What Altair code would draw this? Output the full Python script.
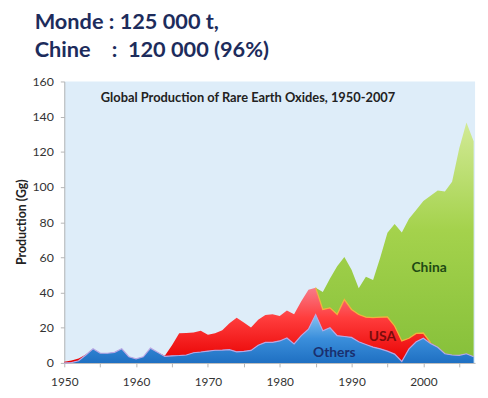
import altair as alt
import pandas as pd

# ---------------- data ----------------
years = list(range(1950, 2008))
others = [0.0, 0.2, 1.2, 4.5, 8.0, 5.6, 5.5, 6.0, 8.0, 3.5,
          2.3, 3.5, 8.4, 6.0, 3.7, 4.0, 4.2, 4.5, 5.8, 6.2,
          6.7, 7.2, 7.3, 7.5, 6.3, 6.6, 7.1, 10.0, 11.7, 11.7,
          12.5, 14.2, 10.8, 15.5, 19.2, 27.5, 18.3, 20.0, 15.5, 15.0,
          14.5, 12.0, 10.5, 9.0, 8.0, 6.7, 5.0, 0.8, 8.0, 12.0,
          14.0, 11.0, 8.9, 5.2, 4.5, 4.3, 5.2, 3.5]
usa = [0.6, 1.2, 1.3, 0.3, 0.0, 0.0, 0.0, 0.0, 0.0, 0.0,
       0.0, 0.0, 0.0, 0.0, 0.3, 6.0, 12.6, 12.5, 11.5, 12.1,
       9.3, 9.6, 11.2, 15.0, 19.4, 16.4, 13.0, 14.5, 15.5, 15.9,
       14.2, 15.6, 16.8, 19.5, 22.4, 15.3, 12.1, 11.3, 12.1, 21.0,
       15.9, 15.5, 15.5, 16.7, 18.0, 19.4, 16.0, 11.7, 6.0, 4.8,
       3.0, 0.5, 0.0, 0.0, 0.0, 0.0, 0.0, 0.0]
china = [0.0] * 35 + [0.0, 9.9, 16.7, 27.4, 24.2,
                      22.6, 15.0, 23.0, 21.5, 34.0, 47.9, 58.0, 61.7, 68.0, 70.2,
                      75.0, 83.5, 89.1, 92.3, 98.5, 117.7, 131.5, 122.5]

x_ticks = list(range(1950, 2010, 5))
y_ticks = list(range(0, 161, 20))

header_1 = "Monde : 125 000 t,"
header_2 = "Chine\u00a0\u00a0\u00a0\u00a0:\u00a0\u00a0120 000 (96%)"
inner_title = "Global Production of Rare Earth Oxides, 1950-2007"

label_text = ["China", "USA", "Others"]
label_year = [2000.8, 1994.3, 1987.6]
label_value = [54.0, 14.8, 5.8]
label_colors = ["#1f4a14", "#7a0c0c", "#1a2f6e"]

# ---------------- chart ----------------
df = pd.DataFrame({"year": years, "others": others, "usa": usa, "china": china})
labels_df = pd.DataFrame({"name": label_text, "year": label_year, "value": label_value})

FONT = "Lato"

xscale = alt.Scale(domain=[1950, 2007.2], nice=False, zero=False)
yscale = alt.Scale(domain=[0, 160], nice=False)

xaxis = alt.Axis(values=x_ticks, labelExpr="datum.value % 10 == 0 ? datum.value : ''",
                 grid=False, title=None, domainColor="#b5b5b5", tickColor="#b5b5b5",
                 tickSize=4, labelPadding=10, labelFontSize=12, labelColor="#333333",
                 labelFont=FONT, labelFlush=False, labelOverlap=False)
yaxis = alt.Axis(values=y_ticks, grid=False, title="Production (Gg)",
                 titleFont=FONT, titleFontSize=12.5, titleFontWeight="bold",
                 titleColor="#222222", titleX=-43, titleY=142, titleBaseline="middle",
                 domainColor="#b5b5b5", tickColor="#b5b5b5", tickSize=4,
                 labelPadding=7, labelFontSize=12.5, labelColor="#333333", labelFont=FONT,
                 labelOverlap=False)

X = alt.X("year:Q", scale=xscale, axis=xaxis)

def Y(field):
    return alt.Y(field, scale=yscale, axis=yaxis)

base = alt.Chart(df).transform_calculate(
    u_top="datum.others + datum.usa",
    c_top="datum.others + datum.usa + datum.china",
)

def grad(stops):
    return alt.Gradient(gradient="linear", x1=1, x2=1, y1=0, y2=1,
                        stops=[alt.GradientStop(color=c, offset=o) for o, c in stops])

green = base.mark_area(color=grad([(0, "#d2ea96"), (0.45, "#a4d24c"), (1, "#86c03a")])).encode(
    x=X, y=Y("c_top:Q"), y2="u_top:Q",
)
red = base.mark_area(color=grad([(0, "#f77c8a"), (0.4, "#ff3d3d"), (1, "#e80000")])).encode(
    x=X, y=Y("u_top:Q"), y2="others:Q",
)
blue = base.mark_area(color=grad([(0, "#86c4f2"), (0.5, "#3a8edb"), (1, "#1f70c2")])).encode(
    x=X, y=Y("others:Q"),
)
blue_line = base.mark_line(color="#b7a6e4", strokeWidth=1.2).encode(
    x=X, y=Y("others:Q"),
)
orange_line = base.transform_filter("datum.year >= 1985 && datum.year <= 2001").mark_line(
    color="#f2b23c", strokeWidth=1.3).encode(x=X, y=Y("u_top:Q"))

labels = alt.Chart(labels_df).mark_text(font=FONT, fontSize=14, fontWeight="bold").encode(
    x=X, y=Y("value:Q"), text="name:N",
    color=alt.Color("name:N", scale=alt.Scale(domain=label_text, range=label_colors), legend=None),
)

one = alt.Data(values=[{"k": 1}])
t_inner = alt.Chart(one).mark_text(font=FONT, fontSize=13, fontWeight="bold", color="#222222",
                                   align="left", baseline="alphabetic").encode(
    x=alt.value(37), y=alt.value(21), text=alt.value(inner_title))
t_h1 = alt.Chart(one).mark_text(font=FONT, fontSize=22, fontWeight="bold", color="#1d2c5c",
                                align="left", baseline="alphabetic").encode(
    x=alt.value(-30), y=alt.value(-53), text=alt.value(header_1))
t_h2 = alt.Chart(one).mark_text(font=FONT, fontSize=22, fontWeight="bold", color="#1d2c5c",
                                align="left", baseline="alphabetic").encode(
    x=alt.value(-30), y=alt.value(-25), text=alt.value(header_2))

chart = alt.layer(green, red, blue, blue_line, orange_line, labels, t_inner, t_h1, t_h2).properties(
    width=416, height=285,
    autosize=alt.AutoSizeParams(type="none"),
    padding={"left": 57, "top": 72, "right": 5, "bottom": 24},
    background="white",
).configure_view(fill="#deedf9", strokeWidth=0).configure_axis(labelOverlap=False)

chart.save("out.html", embed_options={"renderer": "svg", "actions": False})
